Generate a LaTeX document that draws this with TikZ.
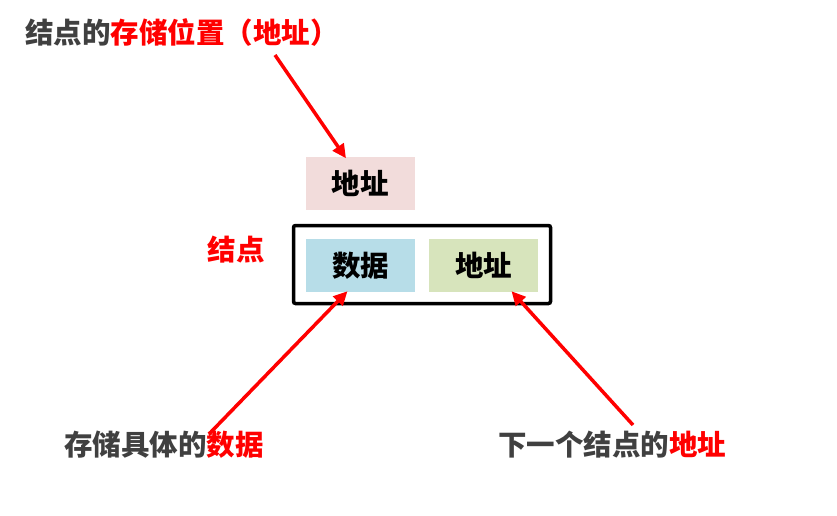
\documentclass[tikz,border=0pt]{standalone}
\usepackage{fontspec}
\newfontfamily\cjk{Noto Sans CJK SC}
\usetikzlibrary{positioning,calc,arrows.meta}
\definecolor{addrbg}{HTML}{F2DCDB}
\definecolor{databg}{HTML}{B7DDE8}
\definecolor{nextbg}{HTML}{D7E4BC}
\definecolor{txtgray}{HTML}{404040}
\definecolor{hlred}{HTML}{FF0000}

\begin{document}
\begin{tikzpicture}[x=1pt, y=-1pt,
  field/.style={minimum width=109pt, minimum height=53pt, inner sep=0pt,
    font=\cjk\bfseries\fontsize{28.5}{28.5}\selectfont},
  caption/.style={font=\cjk\bfseries\fontsize{28.5}{28.5}\selectfont, text=txtgray, inner sep=0pt},
  pointer/.style={draw=hlred, line width=3.5pt, -{Triangle[length=14pt,width=13pt]}}]
  \useasboundingbox (0,0) rectangle (837,515);

  % Storage address of the node
  \node[field, fill=addrbg] (topaddr) at (360,183) {地址};
  \node[caption, anchor=west] (toplabel) at (25,33) {结点的\textcolor{hlred}{存储位置（地址）}};

  % Node: data + next address
  \node[draw, line width=3.5pt, rounded corners=2pt, minimum width=257pt, minimum height=78pt] (nodebox) at (422,264.5) {};
  \node[field, fill=databg] (data) at (360.5,265.5) {数据};
  \node[field, fill=nextbg] (next) at (483.5,265.5) {地址};
  \node[caption, text=hlred] (nodelabel) at (236,250) {结点};

  % Bottom captions
  \node[caption] (datalabel) at (164,445) {存储具体的\textcolor{hlred}{数据}};
  \node[caption] (nextlabel) at (612,445) {下一个结点的\textcolor{hlred}{地址}};

  % Pointers
  \coordinate (topfrom) at (275,55);
  \coordinate (datafrom) at (210,433);
  \coordinate (nextfrom) at (633,425);
  \draw[pointer] (topfrom) -- ($(topaddr.north)+(-14,2)$);
  \draw[pointer] (datafrom) -- ($(data.south)+(-13,-1)$);
  \draw[pointer] (nextfrom) -- ($(next.south)+(28,-1)$);
\end{tikzpicture}
\end{document}
